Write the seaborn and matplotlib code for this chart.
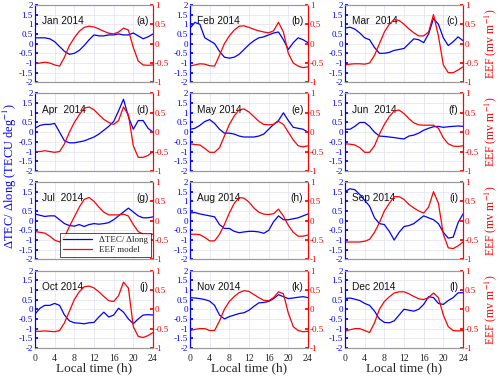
import numpy as np
import seaborn as sns
import matplotlib.pyplot as plt
from matplotlib.lines import Line2D

# local time grid (h)
hours = list(range(25))

# dTEC/dlong (TECU deg^-1), left axis
tec_jan = [0.3, 0.3, 0.3, 0.25, 0.1, -0.15, -0.4, -0.55, -0.5, -0.35, -0.1, 0.2, 0.45, 0.4, 0.4, 0.45, 0.45, 0.5, 0.45, 0.45, 0.55, 0.4, 0.25, 0.35, 0.5]
tec_feb = [0.8, 1.1, 1.0, 0.3, 0.15, 0.0, -0.4, -0.7, -0.75, -0.7, -0.55, -0.3, -0.05, 0.15, 0.3, 0.35, 0.45, 0.55, 0.6, 0.2, -0.3, 0.05, 0.3, 0.2, 0.05]
tec_mar = [0.8, 0.85, 0.75, 0.55, 0.3, 0.2, -0.2, -0.5, -0.5, -0.45, -0.35, -0.3, -0.25, 0.0, 0.25, 0.2, 0.05, 0.5, 1.3, 1.0, 0.3, -0.1, 0.1, 0.35, 0.15]
tec_apr = [0.2, 0.35, 0.4, 0.4, 0.45, 0.0, -0.45, -0.55, -0.55, -0.5, -0.45, -0.35, -0.25, -0.1, 0.1, 0.3, 0.55, 1.1, 1.7, 0.8, 0.15, 0.6, 0.6, 0.2, 0.0]
tec_may = [0.15, 0.2, 0.35, 0.55, 0.65, 0.45, 0.15, -0.05, -0.05, -0.1, -0.2, -0.25, -0.25, -0.25, -0.2, -0.1, 0.15, 0.4, 0.6, 1.0, 0.6, 0.25, 0.2, 0.15, 0.0]
tec_jun = [0.15, 0.15, 0.3, 0.5, 0.5, 0.3, 0.0, -0.2, -0.22, -0.25, -0.28, -0.32, -0.35, -0.2, -0.15, -0.05, 0.1, 0.2, 0.28, 0.3, 0.25, 0.28, 0.3, 0.32, 0.3]
tec_jul = [0.35, 0.28, 0.22, 0.25, 0.25, 0.05, -0.15, -0.25, -0.28, -0.2, -0.3, -0.2, -0.15, -0.18, -0.15, -0.1, 0.05, 0.25, 0.45, 0.65, 0.45, 0.25, 0.15, 0.15, 0.2]
tec_aug = [0.4, 0.42, 0.35, 0.3, 0.25, 0.2, -0.2, -0.4, -0.4, -0.55, -0.62, -0.58, -0.55, -0.55, -0.58, -0.65, -0.5, -0.05, 0.25, 0.05, 0.05, 0.1, 0.15, 0.25, 0.35]
tec_sep = [1.5, 1.65, 1.6, 1.35, 1.05, 0.75, 0.15, -0.15, -0.2, -0.55, -1.0, -0.6, -0.3, -0.25, -0.15, 0.05, 0.25, 0.15, 0.05, -0.15, -0.6, -0.9, -0.85, -0.1, 0.35]
tec_oct = [-0.25, 0.05, 0.2, 0.2, 0.3, 0.2, -0.3, -0.6, -0.7, -0.72, -0.75, -0.7, -0.68, -0.4, -0.15, -0.4, -0.3, 0.05, -0.15, -0.5, -0.75, -0.5, -0.3, -0.28, -0.3]
tec_nov = [0.6, 0.58, 0.55, 0.5, 0.42, 0.2, -0.3, -0.5, -0.38, -0.3, -0.22, -0.18, -0.05, 0.15, 0.33, 0.35, 0.4, 0.55, 0.75, 0.65, 0.55, 0.58, 0.62, 0.65, 0.6]
tec_dec = [0.55, 0.58, 0.52, 0.45, 0.3, 0.2, -0.1, -0.5, -0.68, -0.7, -0.6, -0.3, 0.0, -0.05, -0.1, 0.0, 0.25, 0.65, 0.6, 0.3, 0.25, 0.45, 0.6, 0.85, 0.85]

# EEF model (mV m^-1), right axis
eef_jan = [-0.52, -0.5, -0.48, -0.5, -0.55, -0.58, -0.35, -0.05, 0.15, 0.32, 0.42, 0.45, 0.43, 0.38, 0.32, 0.27, 0.25, 0.3, 0.4, 0.35, -0.1, -0.45, -0.55, -0.56, -0.55]
eef_feb = [-0.58, -0.55, -0.52, -0.53, -0.57, -0.58, -0.3, 0.0, 0.2, 0.35, 0.45, 0.46, 0.42, 0.37, 0.33, 0.3, 0.28, 0.33, 0.55, 0.3, -0.25, -0.5, -0.58, -0.62, -0.6]
eef_mar = [-0.55, -0.53, -0.52, -0.52, -0.53, -0.5, -0.3, 0.0, 0.3, 0.5, 0.62, 0.6, 0.5, 0.38, 0.28, 0.2, 0.2, 0.3, 0.75, 0.2, -0.55, -0.75, -0.75, -0.68, -0.6]
eef_apr = [-0.5, -0.5, -0.48, -0.5, -0.52, -0.5, -0.3, 0.0, 0.25, 0.45, 0.62, 0.65, 0.58, 0.45, 0.33, 0.25, 0.2, 0.3, 0.65, 0.45, -0.35, -0.65, -0.65, -0.6, -0.5]
eef_may = [-0.3, -0.32, -0.33, -0.42, -0.52, -0.52, -0.4, -0.1, 0.2, 0.42, 0.58, 0.6, 0.52, 0.4, 0.28, 0.2, 0.19, 0.2, 0.28, 0.2, 0.0, -0.2, -0.35, -0.38, -0.35]
eef_jun = [-0.3, -0.31, -0.33, -0.4, -0.52, -0.52, -0.35, -0.05, 0.2, 0.4, 0.55, 0.57, 0.48, 0.35, 0.24, 0.19, 0.18, 0.18, 0.18, 0.1, -0.15, -0.3, -0.36, -0.37, -0.35]
eef_jul = [-0.28, -0.3, -0.32, -0.4, -0.5, -0.55, -0.42, -0.15, 0.1, 0.35, 0.55, 0.6, 0.5, 0.35, 0.22, 0.15, 0.15, 0.15, 0.17, 0.12, -0.1, -0.28, -0.35, -0.36, -0.35]
eef_aug = [-0.35, -0.35, -0.36, -0.43, -0.52, -0.52, -0.35, -0.1, 0.2, 0.45, 0.6, 0.58, 0.48, 0.33, 0.22, 0.17, 0.16, 0.18, 0.3, 0.12, -0.12, -0.3, -0.4, -0.4, -0.37]
eef_sep = [-0.55, -0.55, -0.55, -0.55, -0.53, -0.48, -0.3, -0.05, 0.25, 0.45, 0.62, 0.62, 0.55, 0.42, 0.33, 0.25, 0.2, 0.35, 0.75, 0.45, -0.35, -0.7, -0.72, -0.65, -0.55]
eef_oct = [-0.57, -0.57, -0.56, -0.57, -0.58, -0.55, -0.35, -0.05, 0.25, 0.45, 0.58, 0.6, 0.55, 0.45, 0.33, 0.22, 0.2, 0.35, 0.7, 0.55, -0.45, -0.7, -0.73, -0.68, -0.6]
eef_nov = [-0.55, -0.52, -0.5, -0.5, -0.55, -0.55, -0.3, 0.0, 0.2, 0.33, 0.43, 0.48, 0.46, 0.38, 0.3, 0.23, 0.22, 0.3, 0.45, 0.4, -0.1, -0.45, -0.55, -0.58, -0.57]
eef_dec = [-0.56, -0.53, -0.5, -0.5, -0.55, -0.6, -0.35, 0.0, 0.2, 0.32, 0.42, 0.45, 0.45, 0.4, 0.33, 0.27, 0.25, 0.3, 0.42, 0.3, -0.15, -0.45, -0.55, -0.56, -0.55]

months = ["Jan 2014", "Feb 2014", "Mar  2014", "Apr  2014", "May 2014", "Jun  2014",
          "Jul  2014", "Aug 2014", "Sep 2014", "Oct 2014", "Nov 2014", "Dec 2014"]
letters = ["(a)", "(b)", "(c)", "(d)", "(e)", "(f)", "(g)", "(h)", "(i)", "(j)", "(k)", "(l)"]
tec_all = [tec_jan, tec_feb, tec_mar, tec_apr, tec_may, tec_jun,
           tec_jul, tec_aug, tec_sep, tec_oct, tec_nov, tec_dec]
eef_all = [eef_jan, eef_feb, eef_mar, eef_apr, eef_may, eef_jun,
           eef_jul, eef_aug, eef_sep, eef_oct, eef_nov, eef_dec]

left_ticks = [-2, -1.5, -1, -0.5, 0, 0.5, 1, 1.5, 2]
right_ticks = [-1, -0.5, 0, 0.5, 1]
x_ticks = [0, 4, 8, 12, 16, 20, 24]

sns.set_theme(style="white")
plt.rcParams['font.family'] = ['Liberation Serif', 'DejaVu Serif']
plt.rcParams['mathtext.fontset'] = 'stix'

blue = '#0000ff'
red = '#ff0000'

fig, axes = plt.subplots(4, 3, figsize=(5, 3.77), dpi=100, sharex=True)
fig.subplots_adjust(left=0.07, right=0.926, top=0.987, bottom=0.077, wspace=0.314, hspace=0.143)

for i, ax in enumerate(axes.flat):
    sns.lineplot(x=hours, y=tec_all[i], ax=ax, color=blue, lw=0.9)
    ax2 = ax.twinx()
    sns.lineplot(x=hours, y=eef_all[i], ax=ax2, color=red, lw=0.9)

    ax.set_xlim(0, 24)
    ax.set_ylim(-2, 2)
    ax2.set_ylim(-1, 1)
    ax.set_xticks(x_ticks)
    ax.set_yticks(left_ticks)
    ax.set_yticklabels([f"{v:g}" for v in left_ticks])
    ax2.set_yticks(right_ticks)
    ax2.set_yticklabels([f"{v:g}" for v in right_ticks])
    ax.grid(True, color='#e2e2f2', lw=0.5)

    ax.tick_params(axis='y', colors=blue, labelsize=6.5, direction='in', length=2, pad=1.5)
    ax.tick_params(axis='x', colors='#444444', labelsize=7, direction='in', length=2, pad=4,
                   labelcolor='#222222')
    ax2.tick_params(axis='y', colors=red, labelsize=6.5, direction='in', length=2, pad=1.5)

    for a in (ax, ax2):
        a.spines['left'].set_color(blue)
        a.spines['right'].set_color(red)
        a.spines['top'].set_color('#999999')
        a.spines['bottom'].set_color('#999999')
        for s in a.spines.values():
            s.set_linewidth(0.8)

    ax.text(0.06, 0.79, months[i], transform=ax.transAxes, fontsize=7.3,
            family='Liberation Sans', va='center', ha='left', color='#111111')
    ax.text(0.96, 0.79, letters[i], transform=ax.transAxes, fontsize=7.3,
            family='Liberation Sans', va='center', ha='right', color='#111111')

    row, col = divmod(i, 3)
    if row == 3:
        ax.set_xlabel("Local time (h)", fontsize=9.5, labelpad=0)
    if col == 2:
        ax2.set_ylabel("EEF (mv m$^{-1}$)", color=red, fontsize=8.5, labelpad=2)

    if i == 6:
        handles = [Line2D([], [], color=blue, lw=0.9), Line2D([], [], color=red, lw=0.9)]
        leg = ax2.legend(handles, ["\u0394TEC/ \u0394long", "EEF model"], loc='lower right',
                         fontsize=6.5, frameon=True, fancybox=False, edgecolor='black',
                         borderaxespad=0.25, handlelength=3.2, borderpad=0.3, labelspacing=0.2)
        leg.get_frame().set_linewidth(0.6)

fig.text(0.02, 0.534, "\u0394TEC/ \u0394long (TECU deg$^{-1}$)", rotation=90, color=blue,
         fontsize=9, ha='center', va='center')

fig.savefig("out.png", dpi=100)
